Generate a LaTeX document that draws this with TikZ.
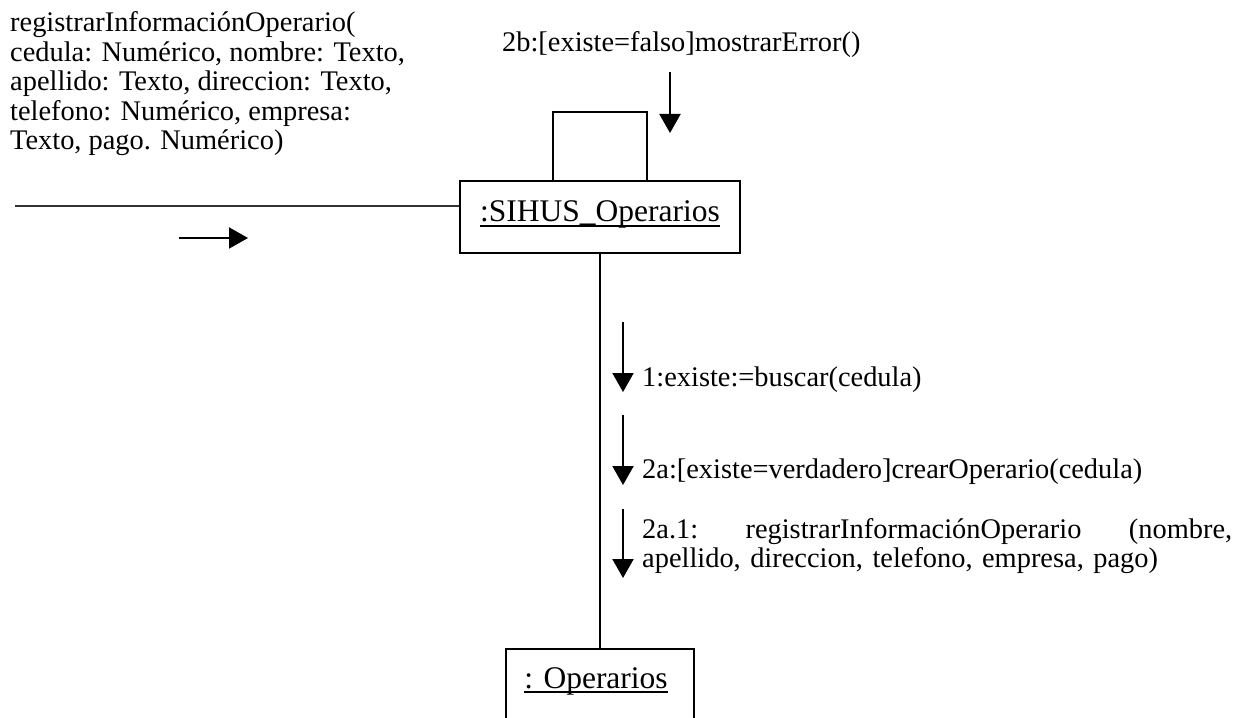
\documentclass[tikz,border=0pt]{standalone}
\usepackage{fontspec}
\setmainfont{Liberation Serif}
\usetikzlibrary{arrows.meta}
\begin{document}
\begin{tikzpicture}[x=1bp,y=-1bp,
  lbl/.style={inner sep=0pt, font=\fontsize{28.4bp}{29.5bp}\selectfont},
  objlbl/.style={inner sep=0pt, font=\fontsize{31.5bp}{34bp}\selectfont},
  objbox/.style={draw, line width=2bp, inner sep=0pt},
  msg/.style={line width=2bp, -{Triangle[length=19bp,width=21bp]}},
  link/.style={line width=2bp},
  thinlink/.style={line width=1.2bp, draw=black!80},
  uline/.style={line width=1.6bp}]
\path[use as bounding box, clip] (0,0) rectangle (1249,718);

% objects
\node[objbox, minimum width=280bp, minimum height=72bp] (sihus) at (600,217) {};
\node[objlbl, anchor=base] (sihustxt) at (600,222) {:SIHUS\_Operarios};
\draw[uline] ([yshift=-4bp]sihustxt.base west) -- ([yshift=-4bp]sihustxt.base east);

\node[objbox, minimum width=188bp, minimum height=100bp] (oper) at (600,699) {};
\node[objlbl, anchor=base] (opertxt) at (596,688) {: Operarios};
\draw[uline] ([yshift=-4bp]opertxt.base west) -- ([yshift=-4bp]opertxt.base east);

% links
\draw[link] (sihus.south) -- (oper.north);
\coordinate (loopL) at (553,112);
\coordinate (loopR) at (647,112);
\draw[link] (loopL |- sihus.north) -- (loopL) -- (loopR) -- (loopR |- sihus.north);
\coordinate (inS) at (15,206);
\draw[thinlink] (inS) -- (sihus.west |- inS);

% incoming message (base anchor = baseline of last line)
\node[lbl, anchor=base west, align=left] (intxt) at (10,150)
  {registrarInformaciónOperario(\\cedula: Numérico, nombre: Texto,\\apellido: Texto, direccion: Texto,\\telefono: Numérico, empresa:\\Texto, pago. Numérico)};
\coordinate (a0s) at (179,238);
\coordinate (a0e) at (248,238);
\draw[msg] (a0s) -- (a0e);

% 2b
\node[lbl, anchor=base west] (m2btxt) at (502,52) {2b:[existe=falso]mostrarError()};
\coordinate (m2bs) at (670,72);
\coordinate (m2be) at (670,133);
\draw[msg] (m2bs) -- (m2be);

% 1
\coordinate (m1s) at (623,322);
\coordinate (m1e) at (623,392);
\draw[msg] (m1s) -- (m1e);
\node[lbl, anchor=base west] (m1txt) at (642,386) {1:existe:=buscar(cedula)};

% 2a
\coordinate (m2as) at (623,415);
\coordinate (m2ae) at (623,485);
\draw[msg] (m2as) -- (m2ae);
\node[lbl, anchor=base west] (m2atxt) at (642,478) {2a:[existe=verdadero]crearOperario(cedula)};

% 2a.1
\coordinate (m3s) at (623,509);
\coordinate (m3e) at (623,578);
\draw[msg] (m3s) -- (m3e);
\node[lbl, anchor=base west, text width=590bp, align=left] (m3txt) at (642,538)
  {\noindent 2a.1:\hfill registrarInformaciónOperario\hfill (nombre,\\apellido, direccion, telefono, empresa, pago)};
\end{tikzpicture}
\end{document}
